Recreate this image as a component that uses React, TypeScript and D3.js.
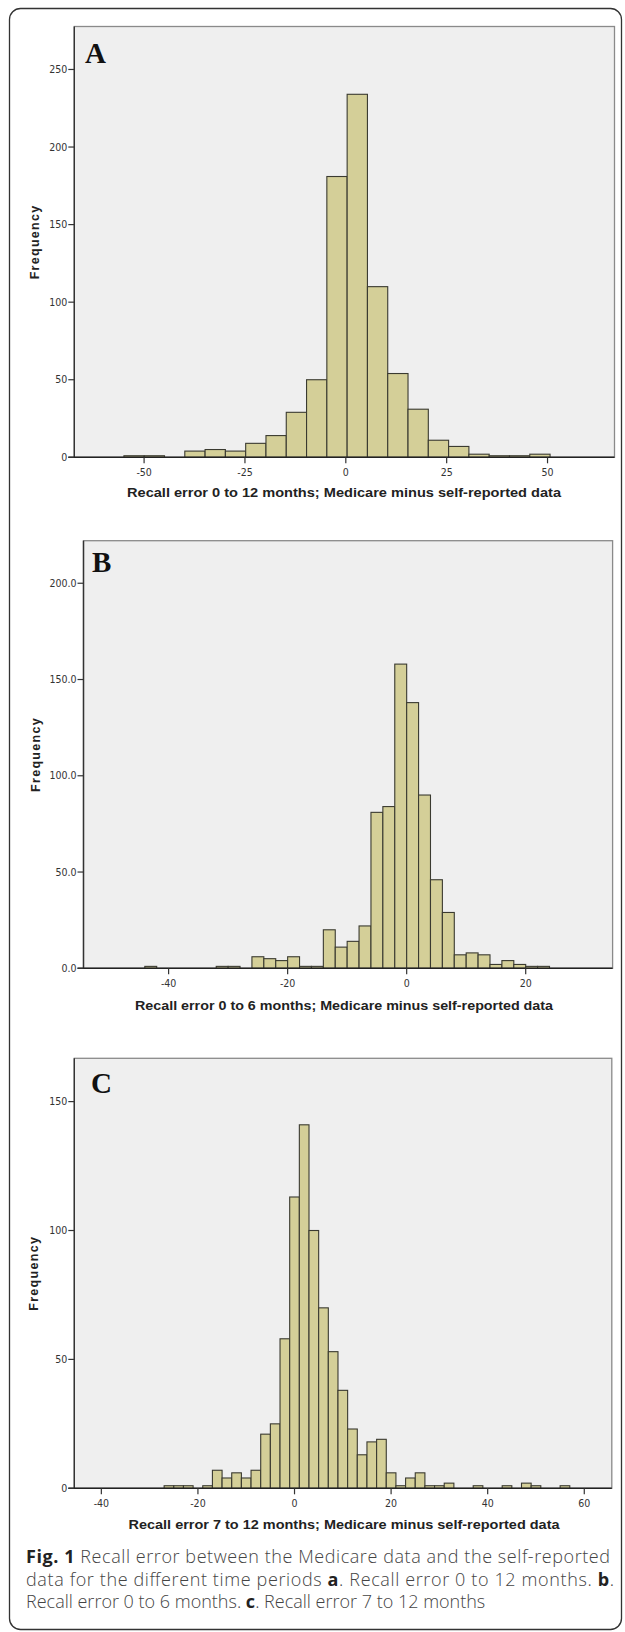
import React from "react";
import { scaleLinear } from "d3";

const pageWidth = 625;
const pageHeight = 1632;

// panel A: recall error 0 to 12 months (bins of ~5)
const aCounts = [1, 1, 0, 4, 5, 4, 9, 14, 29, 50, 181, 234, 110, 54, 31, 11, 7, 2, 1, 1, 2];
const aBinStart = -55;
const aBinWidth = 5.03;
const aXTicks = [-50, -25, 0, 25, 50];
const aYTicks = [0, 50, 100, 150, 200, 250];
const aTitle = "Recall error 0 to 12 months; Medicare minus self-reported data";

// panel B: recall error 0 to 6 months (bins of 2)
const bCounts = [
  1, 0, 0, 0, 0, 0, 1, 1, 0, 6, 5, 4, 6, 1, 1, 20, 11, 14, 22, 81, 84, 158, 138,
  90, 46, 29, 7, 8, 7, 2, 4, 2, 1, 1,
];
const bBinStart = -44;
const bBinWidth = 2;
const bXTicks = [-40, -20, 0, 20];
const bYTicks = [0, 50, 100, 150, 200];
const bTitle = "Recall error 0 to 6 months; Medicare minus self-reported data";

// panel C: recall error 7 to 12 months (bins of 2, centred on even values)
const cCounts = [
  1, 1, 1, 0, 1, 7, 4, 6, 4, 7, 21, 25, 58, 113, 141, 100, 70, 53, 38, 23, 13,
  18, 19, 6, 1, 4, 6, 1, 1, 2, 0, 0, 1, 0, 0, 1, 0, 2, 1, 0, 0, 1,
];
const cBinStart = -27;
const cBinWidth = 2;
const cXTicks = [-40, -20, 0, 20, 40, 60];
const cYTicks = [0, 50, 100, 150];
const cTitle = "Recall error 7 to 12 months; Medicare minus self-reported data";

const panels = [
  {
    key: "A", letter: "A", counts: aCounts, binStart: aBinStart, binWidth: aBinWidth,
    xTicks: aXTicks, yTicks: aYTicks, yFormat: (d) => `${d}`, title: aTitle,
    left: 74.3, right: 614.5, top: 26.5, bottom: 457.3,
    xDomain: [-67.3, 66.6], yMax: 277.7,
    letterX: 85, letterY: 63, yLabelX: 34, titleY: 496.5, titleLen: 434,
  },
  {
    key: "B", letter: "B", counts: bCounts, binStart: bBinStart, binWidth: bBinWidth,
    xTicks: bXTicks, yTicks: bYTicks, yFormat: (d) => d.toFixed(1), title: bTitle,
    left: 83.5, right: 612.6, top: 540.7, bottom: 968.3,
    xDomain: [-54.3, 34.6], yMax: 222.1,
    letterX: 92, letterY: 572, yLabelX: 34.5, titleY: 1009.5, titleLen: 418,
  },
  {
    key: "C", letter: "C", counts: cCounts, binStart: cBinStart, binWidth: cBinWidth,
    xTicks: cXTicks, yTicks: cYTicks, yFormat: (d) => `${d}`, title: cTitle,
    left: 74.3, right: 611.8, top: 1058.3, bottom: 1488.3,
    xDomain: [-45.6, 65.7], yMax: 166.8,
    letterX: 91, letterY: 1093, yLabelX: 33, titleY: 1529, titleLen: 431,
  },
];

const tickFont = "'Liberation Sans Narrow', 'DejaVu Sans Condensed', 'Arial Narrow', sans-serif";
const boldFont = "'Liberation Sans', Arial, sans-serif";
const barFill = "#d4cf98";
const barStroke = "#3a3a30";
const plotBg = "#efefef";
const tickLen = 6;

function Histogram({ p }) {
  const xScale = scaleLinear().domain(p.xDomain).range([p.left, p.right]);
  const yScale = scaleLinear().domain([0, p.yMax]).range([p.bottom, p.top]);
  const titleX = 344;

  return (
    <g>
      <rect
        x={p.left}
        y={p.top}
        width={p.right - p.left}
        height={p.bottom - p.top}
        fill={plotBg}
        stroke="#8a8a8a"
        strokeWidth={1.3}
      />
      {p.counts.map((count, i) => {
        if (count === 0) return null;
        const x0 = xScale(p.binStart + i * p.binWidth);
        const x1 = xScale(p.binStart + (i + 1) * p.binWidth);
        const y = yScale(count);
        return (
          <rect
            key={`${p.key}-bar-${i}`}
            x={x0}
            y={y}
            width={x1 - x0}
            height={yScale(0) - y}
            fill={barFill}
            stroke={barStroke}
            strokeWidth={1.1}
          />
        );
      })}
      {/* axes */}
      <line x1={p.left} x2={p.left} y1={p.top} y2={p.bottom} stroke="#333" strokeWidth={1.4} />
      <line x1={p.left - tickLen} x2={p.right} y1={p.bottom} y2={p.bottom} stroke="#222" strokeWidth={1.4} />
      {p.yTicks.map((tick) => (
        <g key={`${p.key}-y-${tick}`} transform={`translate(${p.left},${yScale(tick)})`}>
          <line x1={-tickLen} x2={0} stroke="#333" strokeWidth={1.2} />
          <text
            x={-tickLen - 1}
            dy="0.35em"
            textAnchor="end"
            fontFamily={tickFont}
            fontSize={10.5}
            fill="#333"
          >
            {p.yFormat(tick)}
          </text>
        </g>
      ))}
      {p.xTicks.map((tick) => (
        <g key={`${p.key}-x-${tick}`} transform={`translate(${xScale(tick)},${p.bottom})`}>
          <line y1={0} y2={tickLen} stroke="#333" strokeWidth={1.2} />
          <text
            y={18.5}
            textAnchor="middle"
            fontFamily={tickFont}
            fontSize={10.5}
            fill="#333"
          >
            {tick}
          </text>
        </g>
      ))}
      <text
        x={p.letterX}
        y={p.letterY}
        fontFamily="'Liberation Serif', 'Times New Roman', serif"
        fontWeight="bold"
        fontSize={29}
        fill="#111"
      >
        {p.letter}
      </text>
      <text
        transform={`translate(${p.yLabelX + 5},${(p.top + p.bottom) / 2}) rotate(-90)`}
        textAnchor="middle"
        fontFamily={boldFont}
        fontWeight="bold"
        fontSize={12.5}
        letterSpacing={1.3}
        fill="#222"
      >
        Frequency
      </text>
      <text
        x={titleX}
        y={p.titleY}
        textAnchor="middle"
        fontFamily={boldFont}
        fontWeight="bold"
        fontSize={12.5}
        textLength={p.titleLen}
        lengthAdjust="spacingAndGlyphs"
        fill="#222"
      >
        {p.title}
      </text>
    </g>
  );
}

export default function App() {
  const captionFont = "'Open Sans', 'Noto Sans', sans-serif";
  return (
    <svg
      width={pageWidth}
      height={pageHeight}
      style={{ position: "absolute", left: 0, top: 0, background: "#fff" }}
    >
      <rect x={9.5} y={8.5} width={612} height={1621} rx={11} fill="#fff" stroke="#333" strokeWidth={1.3} />
      {panels.map((p) => (
        <Histogram key={p.key} p={p} />
      ))}
      <g fontFamily={captionFont} fontSize={18} fontWeight={300} fill="#444">
        <text x={26} y={1563} textLength={584} lengthAdjust="spacing">
          <tspan fontWeight="bold" fill="#222">Fig. 1</tspan> Recall error between the Medicare data and the self-reported
        </text>
        <text x={26} y={1585.5} textLength={588} lengthAdjust="spacing">
          data for the different time periods <tspan fontWeight="bold" fill="#222">a</tspan>. Recall error 0 to 12 months. <tspan fontWeight="bold" fill="#222">b</tspan>.
        </text>
        <text x={26} y={1608}>
          Recall error 0 to 6 months. <tspan fontWeight="bold" fill="#222">c</tspan>. Recall error 7 to 12 months
        </text>
      </g>
    </svg>
  );
}
